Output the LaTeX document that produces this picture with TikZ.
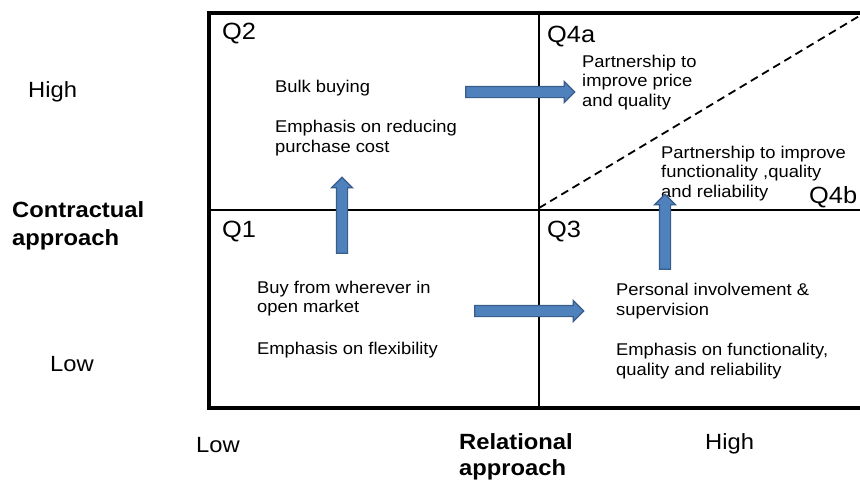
\documentclass[tikz,border=0pt]{standalone}
\usepackage{fontspec}
\setmainfont{Liberation Sans}[FakeStretch=1.08]
\usepackage{xcolor}
\usetikzlibrary{shapes.arrows}

\definecolor{arrowblue}{HTML}{4F81BD}
\definecolor{arrowedge}{HTML}{385D8A}

\begin{document}
\begin{tikzpicture}[
    x=1pt, y=-1pt,
    frame/.style={line width=3.5pt},
    divider/.style={line width=2.5pt},
    quadlabel/.style={anchor=base west, inner sep=0pt, font=\fontsize{23.5}{26}\selectfont},
    % multi-line nodes sit on the baseline of their last line
    body/.style={anchor=base west, inner sep=0pt, align=left, font=\fontsize{17}{19.5}\selectfont},
    axislabel/.style={anchor=base west, inner sep=0pt, align=left, font=\fontsize{22}{27}\selectfont},
    movearrow/.style={single arrow, draw=arrowedge, fill=arrowblue, line width=1.2pt, inner sep=5pt,
        single arrow head extend=5pt, single arrow head indent=0pt}
]
\useasboundingbox (0,0) rectangle (860,483);

% grid of the four quadrants
\draw [frame] (209,13) rectangle (880,408);
\draw [divider] (539,13) -- (539,408);
\draw [divider] (209,210) -- (880,210);
\draw [dashed, line width=1.8pt, dash pattern=on 8pt off 5pt] (539,208) -- (876,6);

% quadrant names
\node [quadlabel] (q2) at (222,39) {Q2};
\node [quadlabel] (q4a) at (547,42) {Q4a};
\node [quadlabel] (q1) at (222,237) {Q1};
\node [quadlabel] (q3) at (547,237) {Q3};
\node [quadlabel] (q4b) at (809,203) {Q4b};

% quadrant contents
\node [body] (bulk) at (275,152) {Bulk buying\\[21pt]Emphasis on reducing\\purchase cost};
\node [body] (pricepart) at (582,106) {Partnership to\\improve price\\and quality};
\node [body] (funcpart) at (661,197) {Partnership to improve\\functionality ,quality\\and reliability};
\node [body] (market) at (257,354) {Buy from wherever in\\open market\\[22pt]Emphasis on flexibility};
\node [body] (involve) at (616,375) {Personal involvement \&\\supervision\\[21pt]Emphasis on functionality,\\quality and reliability};

% axes
\node [axislabel] (yhigh) at (28,97) {High};
\node [axislabel, font=\fontsize{22}{28}\selectfont\bfseries] (ytitle) at (12,245) {Contractual\\approach};
\node [axislabel] (ylow) at (50,371) {Low};
\node [axislabel] (xlow) at (196,452) {Low};
\node [axislabel, font=\fontsize{22}{26}\selectfont\bfseries] (xtitle) at (459,475) {Relational\\approach};
\node [axislabel] (xhigh) at (705,449) {High};

% moves between quadrants
\node [movearrow, minimum height=109pt] (toq4a) at (517.5,92) {};
\node [movearrow, minimum height=109pt] (toq3) at (526.5,311) {};
\node [movearrow, minimum height=76pt, rotate=90] (toq2) at (342,218) {};
\node [movearrow, minimum height=75pt, rotate=90] (toq4b) at (665,234.5) {};

\end{tikzpicture}
\end{document}
